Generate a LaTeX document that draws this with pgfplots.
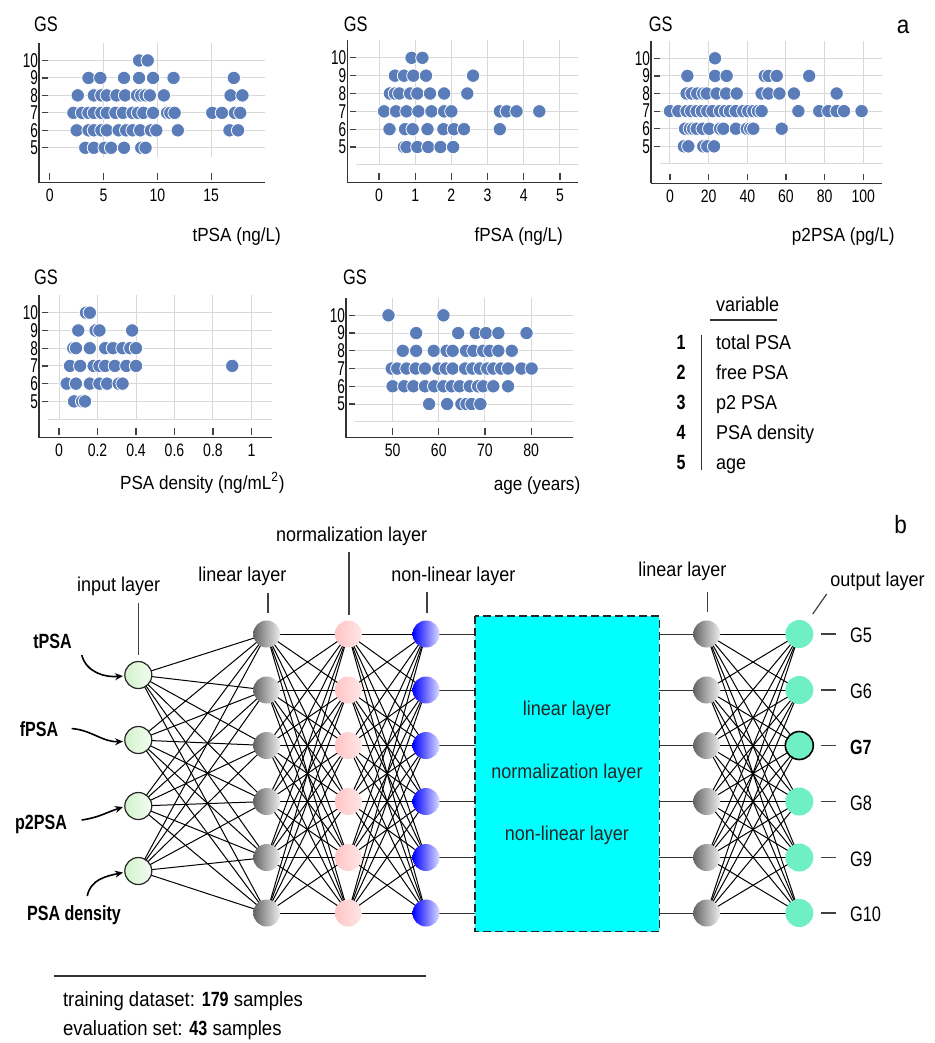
\documentclass[border=0pt]{standalone}
\usepackage{pgfplots}
\pgfplotsset{compat=1.18}
\usepackage{fontspec}
\setmainfont{Liberation Sans}[FakeStretch=0.9]
\newfontfamily\cf{Liberation Sans}[FakeStretch=0.78]
\newfontfamily\ycf{Liberation Sans}[FakeStretch=0.68]
\usetikzlibrary{arrows.meta}
\definecolor{mk}{HTML}{5A7CB8}
\definecolor{gridc}{HTML}{D8D8D8}
\definecolor{outc}{HTML}{6EF0C4}
\definecolor{inL}{HTML}{D2F2CA}
\definecolor{inR}{HTML}{F3FDF1}
\definecolor{pkL}{HTML}{FFC4C4}
\definecolor{pkR}{HTML}{FFE6E6}
\definecolor{blL}{HTML}{0000FF}
\definecolor{blR}{HTML}{DCDCFF}
\definecolor{gyL}{HTML}{646464}
\definecolor{gyR}{HTML}{EDEDED}
\definecolor{boxc}{HTML}{00FFFF}
\tikzset{
  grd/.style={gridc, line width=0.5pt},
  tk/.style={black!75, line width=0.6pt},
  edge/.style={black, line width=0.5pt},
  lbl/.style={black!75, line width=0.6pt},
  arr/.style={black, line width=0.8pt, -{Stealth[length=4pt,width=3.5pt]}},
  lf/.style={font=\fontsize{10}{12}\selectfont},
  bf/.style={font=\cf\fontsize{10.3}{12}\selectfont\bfseries},
  gs/.style={font=\cf\fontsize{10.5}{12}\selectfont},
}
\pgfplotsset{
  sc/.style={scale only axis, anchor=south west,
    axis x line*=bottom, axis y line*=left,
    axis line style={-, line width=0.75pt, black!80},
    major tick length=0pt, ytick={5,6,7,8,9,10}, clip=false,
    /pgf/number format/assume math mode=true,
    ticklabel style={inner sep=0pt},
    yticklabel style={font=\ycf\fontsize{10}{10}\selectfont, anchor=east, xshift=-0.3pt},
    xticklabel style={font=\cf\fontsize{9}{10}\selectfont, anchor=north, yshift=-3pt}},
  pts/.style={only marks, mark=*, mark size=3.35pt,
    mark options={fill=mk, draw=white, line width=0.4pt}},
}
% full connection between two layers (inside an axis)
\newcommand\fullconn[4]{%
  \foreach \a in {#2}{\foreach \b in {#4}{%
    \edef\temp{\noexpand\draw[edge] (axis cs:#1,\a) -- (axis cs:#3,\b);}\temp}}}
\begin{document}
\begin{tikzpicture}
\path[use as bounding box] (0,0) rectangle (467.5pt,-521.5pt);

% ---------- plot 1: tPSA
\begin{axis}[sc, at={(19.5pt,-91.35pt)}, width=113pt, height=69.85pt,
  xmin=-1, xmax=20, ymin=3, ymax=11, xtick={0,5,10,15}]
\pgfplotsinvokeforeach{5,10,15}{\draw[grd] (axis cs:#1,4.5) -- (axis cs:#1,11);}
\pgfplotsinvokeforeach{5,6,7,8,9,10}{\draw[grd] (axis cs:-1,#1) ++(4.5pt,0pt) -- (axis cs:20,#1);
  \draw[tk] (axis cs:-1,#1) ++(1.5pt,0pt) -- ++(3pt,0pt);}
\pgfplotsinvokeforeach{0,5,10,15}{\draw[tk] (axis cs:#1,3) ++(0pt,1.4pt) -- ++(0pt,3.4pt);}
\addplot[pts] coordinates {
(8.3,10)(9.1,10)
(3.6,9)(4.7,9)(6.9,9)(8.3,9)(9.6,9)(11.5,9)(17.1,9)
(2.6,8)(4.1,8)(4.8,8)(5.3,8)(6.2,8)(7.0,8)(8.1,8)(8.5,8)(8.9,8)(9.3,8)(10.6,8)(16.8,8)(17.9,8)
(2.2,7)(3.0,7)(3.6,7)(4.1,7)(4.8,7)(5.3,7)(6.1,7)(6.8,7)(7.7,7)(8.2,7)(8.7,7)(9.6,7)(10.9,7)(11.2,7)(11.6,7)(15.1,7)(16.0,7)(17.2,7)(17.7,7)
(2.5,6)(3.6,6)(4.1,6)(4.8,6)(5.3,6)(6.4,6)(7.1,6)(7.7,6)(8.4,6)(9.4,6)(9.9,6)(11.9,6)(16.7,6)(17.5,6)
(3.3,5)(4.1,5)(5.1,5)(5.7,5)(6.9,5)(8.5,5)(8.9,5)
};
\end{axis}

% ---------- plot 2: fPSA
\begin{axis}[sc, at={(173.65pt,-91.35pt)}, width=115.35pt, height=71.35pt,
  xmin=-0.876, xmax=5.5, ymin=3, ymax=11, xtick={0,1,2,3,4,5}]
\pgfplotsinvokeforeach{0,1,2,3,4,5}{\draw[grd] (axis cs:#1,4) -- (axis cs:#1,11);}
\pgfplotsinvokeforeach{4,5,6,7,8,9,10}{\draw[grd] (axis cs:-0.876,#1) ++(4.5pt,0pt) -- (axis cs:5.5,#1);}
\pgfplotsinvokeforeach{5,6,7,8,9,10}{\draw[tk] (axis cs:-0.876,#1) ++(1.5pt,0pt) -- ++(3pt,0pt);}
\pgfplotsinvokeforeach{0,1,2,3,4,5}{\draw[tk] (axis cs:#1,3) ++(0pt,1.4pt) -- ++(0pt,3.4pt);}
\addplot[pts] coordinates {
(0.9,10)(1.2,10)
(0.44,9)(0.69,9)(0.95,9)(1.3,9)(2.6,9)
(0.3,8)(0.44,8)(0.56,8)(0.86,8)(1.06,8)(1.41,8)(1.8,8)(2.44,8)
(0.14,7)(0.47,7)(0.76,7)(1.09,7)(1.45,7)(1.8,7)(2.0,7)(3.34,7)(3.53,7)(3.8,7)(4.43,7)
(0.29,6)(0.72,6)(0.93,6)(1.34,6)(1.78,6)(2.07,6)(2.35,6)(3.34,6)
(0.69,5)(0.76,5)(1.06,5)(1.36,5)(1.7,5)(2.05,5)
};
\end{axis}

% ---------- plot 3: p2PSA
\begin{axis}[sc, at={(325.5pt,-91.65pt)}, width=115.35pt, height=71.3pt,
  xmin=-9.8, xmax=109.5, ymin=2.9, ymax=11, xtick={0,20,40,60,80,100}]
\pgfplotsinvokeforeach{0,20,40,60,80,100}{\draw[grd] (axis cs:#1,4) -- (axis cs:#1,11);}
\pgfplotsinvokeforeach{4,5,6,7,8,9,10}{\draw[grd] (axis cs:-9.8,#1) ++(4.5pt,0pt) -- (axis cs:109.5,#1);}
\pgfplotsinvokeforeach{5,6,7,8,9,10}{\draw[tk] (axis cs:-9.8,#1) ++(1.5pt,0pt) -- ++(3pt,0pt);}
\pgfplotsinvokeforeach{0,20,40,60,80,100}{\draw[tk] (axis cs:#1,2.9) ++(0pt,1.4pt) -- ++(0pt,3.4pt);}
\addplot[pts] coordinates {
(23.3,10)
(9,9)(23.3,9)(29.3,9)(49,9)(51,9)(55.2,9)(72,9)
(8.6,8)(11.2,8)(14.1,8)(17.2,8)(19,8)(24.1,8)(29,8)(34.5,8)(47.4,8)(50.9,8)(56.6,8)(64.1,8)(86.2,8)
(0,7)(4.3,7)(8.6,7)(11,7)(13.8,7)(16.5,7)(19.3,7)(22,7)(25.9,7)(28.5,7)(31,7)(34,7)(37.9,7)(40.5,7)(43.1,7)(45.5,7)(47.4,7)(66.4,7)(77.2,7)(81.9,7)(86.2,7)(90,7)(99.1,7)
(7.8,6)(10.3,6)(12,6)(13.8,6)(16.9,6)(20.3,6)(25.9,6)(27.6,6)(34.1,6)(39.7,6)(41.5,6)(43.1,6)(57.8,6)
(7.2,5)(9.5,5)(17.2,5)(19.3,5)(22.8,5)
};
\end{axis}

% ---------- plot 4: PSA density
\begin{axis}[sc, at={(19.5pt,-218.85pt)}, width=116.35pt, height=71.35pt,
  xmin=-0.104, xmax=1.105, ymin=2.95, ymax=11, xtick={0,0.2,0.4,0.6,0.8,1}]
\pgfplotsinvokeforeach{0,0.2,0.4,0.6,0.8,1}{\draw[grd] (axis cs:#1,4) -- (axis cs:#1,11);}
\pgfplotsinvokeforeach{4,5,6,7,8,9,10}{\draw[grd] (axis cs:-0.104,#1) ++(4.5pt,0pt) -- (axis cs:1.105,#1);}
\pgfplotsinvokeforeach{5,6,7,8,9,10}{\draw[tk] (axis cs:-0.104,#1) ++(1.5pt,0pt) -- ++(3pt,0pt);}
\pgfplotsinvokeforeach{0,0.2,0.4,0.6,0.8,1}{\draw[tk] (axis cs:#1,2.95) ++(0pt,1.4pt) -- ++(0pt,3.4pt);}
\addplot[pts] coordinates {
(0.14,10)(0.16,10)
(0.10,9)(0.19,9)(0.21,9)(0.38,9)
(0.074,8)(0.088,8)(0.16,8)(0.24,8)(0.28,8)(0.33,8)(0.37,8)(0.40,8)
(0.057,7)(0.11,7)(0.18,7)(0.21,7)(0.24,7)(0.29,7)(0.35,7)(0.40,7)(0.90,7)
(0.04,6)(0.088,6)(0.16,6)(0.21,6)(0.25,6)(0.31,6)(0.33,6)
(0.078,5)(0.12,5)(0.135,5)
};
\end{axis}

% ---------- plot 5: age
\begin{axis}[sc, at={(173pt,-218.85pt)}, width=113.35pt, height=69.7pt,
  xmin=39.9, xmax=89, ymin=3.1, ymax=10.96, xtick={50,60,70,80}]
\pgfplotsinvokeforeach{50,60,70,80}{\draw[grd] (axis cs:#1,4) -- (axis cs:#1,10.96);}
\pgfplotsinvokeforeach{4,5,6,7,8,9,10}{\draw[grd] (axis cs:39.9,#1) ++(4.5pt,0pt) -- (axis cs:89,#1);}
\pgfplotsinvokeforeach{5,6,7,8,9,10}{\draw[tk] (axis cs:39.9,#1) ++(1.5pt,0pt) -- ++(3pt,0pt);}
\pgfplotsinvokeforeach{50,60,70,80}{\draw[tk] (axis cs:#1,3.1) ++(0pt,1.4pt) -- ++(0pt,3.4pt);}
\addplot[pts] coordinates {
(49.1,10)(61,10)
(55.1,9)(64.2,9)(68,9)(70.2,9)(72.9,9)(79,9)
(52.2,8)(55.1,8)(58.9,8)(61.7,8)(63,8)(65.9,8)(67.5,8)(69.6,8)(71,8)(72.9,8)(75.8,8)
(49.8,7)(51,7)(53,7)(55,7)(57,7)(59.9,7)(61.5,7)(63,7)(65.7,7)(67.3,7)(68.9,7)(70.5,7)(71.8,7)(73.5,7)(75,7)(77.9,7)(80.1,7)
(50,6)(52.5,6)(54.5,6)(57,6)(59,6)(61,6)(62.8,6)(64.5,6)(66.7,6)(68.5,6)(69.6,6)(71.8,6)(75,6)
(57.9,5)(61.8,5)(64.9,5)(66,5)(67.1,5)(69,5)
};
\end{axis}

% ---------- overlay: labels, legend, network
\begin{axis}[at={(0pt,0pt)}, anchor=north west, scale only axis,
  width=467.5pt, height=521.5pt, xmin=0, xmax=935, ymin=0, ymax=1043,
  y dir=reverse, hide axis, clip=false]
% axis titles
\node[anchor=base west, gs] at (axis cs:27,31) {GS};
\node[anchor=base west, gs] at (axis cs:336.7,31) {GS};
\node[anchor=base west, gs] at (axis cs:641.7,31) {GS};
\node[anchor=base west, gs] at (axis cs:27,284) {GS};
\node[anchor=base west, gs] at (axis cs:336,284) {GS};
\node[anchor=base east, font=\fontsize{9.5}{11}\selectfont] at (axis cs:288,241) {tPSA (ng/L)};
\node[anchor=base east, font=\fontsize{9.5}{11}\selectfont] at (axis cs:570,241) {fPSA (ng/L)};
\node[anchor=base east, font=\fontsize{9.5}{11}\selectfont] at (axis cs:901.7,241) {p2PSA (pg/L)};
\node[anchor=base east, font=\fontsize{9.5}{11}\selectfont] at (axis cs:291.7,489) {PSA density (ng/mL\textsuperscript{2})};
\node[anchor=base east, font=\fontsize{9.5}{11}\selectfont] at (axis cs:587.3,490) {age (years)};
\node[anchor=base, font=\fontsize{12.5}{14}\selectfont] at (axis cs:903,33) {a};
\node[anchor=base, font=\fontsize{12.5}{14}\selectfont] at (axis cs:900.7,533) {b};
% legend
\node[anchor=base west, lf] at (axis cs:709,311) {variable};
\draw[line width=0.7pt, black!80] (axis cs:710,320) -- (axis cs:777,320);
\draw[line width=0.6pt, black!80] (axis cs:701.7,335) -- (axis cs:701.7,470);
\node[anchor=base east, bf] at (axis cs:692.5,349.3) {1};
\node[anchor=base east, bf] at (axis cs:692.5,379.3) {2};
\node[anchor=base east, bf] at (axis cs:692.5,409.3) {3};
\node[anchor=base east, bf] at (axis cs:692.5,439.3) {4};
\node[anchor=base east, bf] at (axis cs:692.5,469.3) {5};
\node[anchor=base west, lf] at (axis cs:709,349.3) {total PSA};
\node[anchor=base west, lf] at (axis cs:709,379.3) {free PSA};
\node[anchor=base west, lf] at (axis cs:709,409.3) {p2 PSA};
\node[anchor=base west, lf] at (axis cs:709,439.3) {PSA density};
\node[anchor=base west, lf] at (axis cs:709,469.3) {age};
% network edges
\fullconn{138.3}{675,740,806,871}{266.7}{634,690,745.5,801.5,857.5,913}
\fullconn{266.7}{634,690,745.5,801.5,857.5,913}{348.3}{634,690,745.5,801.5,857.5,913}
\fullconn{348.3}{634,690,745.5,801.5,857.5,913}{426}{634,690,745.5,801.5,857.5,913}
\fullconn{706.7}{634,690,745.5,801.5,857.5,913}{799.3}{634,690,745.5,801.5,857.5,913}
\pgfplotsinvokeforeach{634,690,745.5,801.5,857.5,913}{\draw[edge, black!80] (axis cs:426,#1) -- (axis cs:475,#1); \draw[edge, black!80] (axis cs:659.3,#1) -- (axis cs:706.7,#1); \draw[lbl] (axis cs:820.7,#1) -- (axis cs:836,#1);}
\draw[dash pattern=on 4pt off 2pt, line width=0.75pt, black!85, fill=boxc] (axis cs:475,616) rectangle (axis cs:659.3,931.7);
\node[anchor=base, lf, text=black!85] at (axis cs:567,715) {linear layer};
\node[anchor=base, lf, text=black!85] at (axis cs:567,778.3) {normalization layer};
\node[anchor=base, lf, text=black!85] at (axis cs:567,840) {non-linear layer};
% layer labels
\node[anchor=base, lf] at (axis cs:118.7,591.7) {input layer};
\node[anchor=base, lf] at (axis cs:242.5,581.7) {linear layer};
\node[anchor=base, lf] at (axis cs:351.7,541.7) {normalization layer};
\node[anchor=base, lf] at (axis cs:453.5,581.7) {non-linear layer};
\node[anchor=base, lf] at (axis cs:682.5,576) {linear layer};
\node[anchor=base, lf] at (axis cs:877.5,586) {output layer};
\draw[lbl] (axis cs:138.3,603) -- (axis cs:138.3,655);
\draw[lbl] (axis cs:268,592.7) -- (axis cs:268,612.7);
\draw[lbl] (axis cs:349,551.7) -- (axis cs:349,615);
\draw[lbl] (axis cs:427,592) -- (axis cs:427,613);
\draw[lbl] (axis cs:707.3,591.7) -- (axis cs:707.3,611.7);
\draw[lbl] (axis cs:826.7,594) -- (axis cs:812.7,614);
% input labels and arrows
\node[anchor=base, bf] at (axis cs:52.5,648.3) {tPSA};
\node[anchor=base, bf] at (axis cs:39,736.7) {fPSA};
\node[anchor=base, bf] at (axis cs:41,829.3) {p2PSA};
\node[anchor=base, bf] at (axis cs:74,920) {PSA density};
\draw[arr] (axis cs:81.7,655) to[out=-75,in=185] (axis cs:123,676);
\draw[arr] (axis cs:71.7,728.5) to[out=-5,in=182] (axis cs:123,741.5);
\draw[arr] (axis cs:81.7,820) to[out=8,in=198] (axis cs:123,807);
\draw[arr] (axis cs:87.3,896) to[out=80,in=192] (axis cs:123,872.5);
% output labels
\node[anchor=base west, gs] at (axis cs:843,642.5) {G5};
\node[anchor=base west, gs] at (axis cs:843,698.5) {G6};
\node[anchor=base west, bf] at (axis cs:843,754) {G7};
\node[anchor=base west, gs] at (axis cs:843,810) {G8};
\node[anchor=base west, gs] at (axis cs:843,866) {G9};
\node[anchor=base west, gs] at (axis cs:843,921.5) {G10};
% nodes
\addplot[draw=none, no marks, nodes near coords={\relax},
  every node near coord/.append style={anchor=center, circle, inner sep=0pt, minimum size=13.5pt, draw=black!85, line width=0.6pt, left color=inL, right color=inR}]
  coordinates {(138.3,675)(138.3,740)(138.3,806)(138.3,871)};
\addplot[draw=none, no marks, nodes near coords={\relax},
  every node near coord/.append style={anchor=center, circle, inner sep=0pt, minimum size=13.5pt, draw=none, left color=gyL, right color=gyR}]
  coordinates {(266.7,634)(266.7,690)(266.7,745.5)(266.7,801.5)(266.7,857.5)(266.7,913)
  (706.7,634)(706.7,690)(706.7,745.5)(706.7,801.5)(706.7,857.5)(706.7,913)};
\addplot[draw=none, no marks, nodes near coords={\relax},
  every node near coord/.append style={anchor=center, circle, inner sep=0pt, minimum size=13.5pt, draw=none, left color=pkL, right color=pkR}]
  coordinates {(348.3,634)(348.3,690)(348.3,745.5)(348.3,801.5)(348.3,857.5)(348.3,913)};
\addplot[draw=none, no marks, nodes near coords={\relax},
  every node near coord/.append style={anchor=center, circle, inner sep=0pt, minimum size=13.5pt, draw=none, left color=blL, right color=blR}]
  coordinates {(426,634)(426,690)(426,745.5)(426,801.5)(426,857.5)(426,913)};
\addplot[draw=none, no marks, nodes near coords={\relax},
  every node near coord/.append style={anchor=center, circle, inner sep=0pt, minimum size=14pt, draw=none, fill=outc}]
  coordinates {(799.3,634)(799.3,690)(799.3,801.5)(799.3,857.5)(799.3,913)};
\addplot[draw=none, no marks, nodes near coords={\relax},
  every node near coord/.append style={anchor=center, circle, inner sep=0pt, minimum size=14pt, draw=black, line width=0.8pt, fill=outc}]
  coordinates {(799.3,745.5)};
% bottom text
\draw[line width=0.7pt, black!80] (axis cs:54,976) -- (axis cs:426,976);
\node[anchor=base west, font=\fontsize{10.3}{12}\selectfont] at (axis cs:56,1006.7) {training dataset: {\cf\bfseries 179} samples};
\node[anchor=base west, font=\fontsize{10.3}{12}\selectfont] at (axis cs:56,1035) {evaluation set: {\cf\bfseries 43} samples};
\end{axis}
\end{tikzpicture}
\end{document}
